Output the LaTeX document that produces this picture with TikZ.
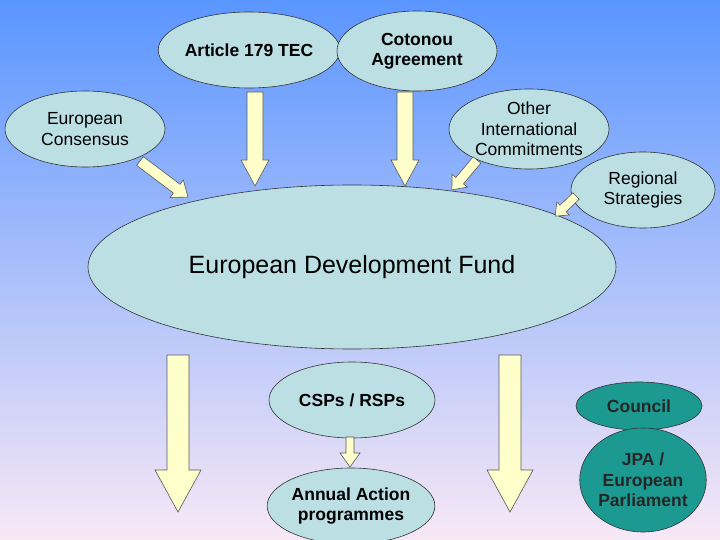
\documentclass[tikz,border=0pt]{standalone}
\usepackage{fontspec}
\setmainfont{Liberation Sans}
\begin{document}
\begin{tikzpicture}[x=1pt,y=-1pt,
  ell/.style={ellipse,draw=black!80,fill=lightcyan,line width=0.6pt,align=center,inner sep=0pt,font=\fontsize{17.5}{20.5}\selectfont},
  teal/.style={ellipse,draw=black!80,fill=tealfill,line width=0.6pt,align=center,inner sep=0pt,font=\fontsize{17.5}{20.5}\selectfont\bfseries,text=black!85},
  fatarrow/.style={draw=gray!70!black,fill=paleyellow,line width=0.6pt,line join=miter}]
\definecolor{lightcyan}{HTML}{BBDFE3}
\definecolor{tealfill}{HTML}{1C9990}
\definecolor{paleyellow}{HTML}{FFFFCC}
\usetikzlibrary{shapes.geometric}
\newcommand\fatarr[7]{\begin{scope}[shift={(#1,#2)},rotate=-#3]\draw[fatarrow] (0,-#5/2) -- (#4-#7,-#5/2) -- (#4-#7,-#6/2) -- (#4,0) -- (#4-#7,#6/2) -- (#4-#7,#5/2) -- (0,#5/2) -- cycle;\end{scope}}
\shade[top color={rgb,255:red,90;green,150;blue,255},middle color={rgb,255:red,175;green,200;blue,240},bottom color={rgb,255:red,248;green,232;blue,246}] (0,0) rectangle (720,540);
\useasboundingbox (0,0) rectangle (720,540);
\node[ell,minimum width=150,minimum height=76,font=\fontsize{17.5}{20.5}\selectfont\bfseries] (art) at (249,50) {Article 179 TEC};
\node[ell,minimum width=160,minimum height=80,font=\fontsize{17.5}{20.5}\selectfont\bfseries] (cot) at (417,51) {Cotonou\\Agreement};
\node[ell,minimum width=160,minimum height=76] (cons) at (85,129) {European\\Consensus};
\node[ell,minimum width=160,minimum height=80] (oth) at (529,129) {Other\\International\\Commitments};
\node[ell,minimum width=144,minimum height=76] (reg) at (643,190) {Regional\\Strategies};
\node[ell,minimum width=528,minimum height=164,font=\fontsize{25}{28}\selectfont] (edf) at (352,267) {European Development Fund};
\node[ell,minimum width=166,minimum height=76,font=\fontsize{17.5}{20.5}\selectfont\bfseries] (csp) at (352,400) {CSPs / RSPs};
\node[ell,minimum width=166,minimum height=76,font=\fontsize{17.5}{20.5}\selectfont\bfseries] (aap) at (351,506) {Annual Action\\programmes};
\node[teal,minimum width=126,minimum height=48] (cou) at (639,406) {Council};
\node[teal,minimum width=126,minimum height=104] (jpa) at (643,480) {JPA /\\European\\Parliament};
\fatarr{140}{161}{37}{60}{11}{22}{14}
\fatarr{255}{92}{90}{94}{16}{28}{26}
\fatarr{405}{92}{90}{94}{16}{28}{26}
\fatarr{477}{160}{130}{39}{10}{20}{12}
\fatarr{576}{196}{136}{29}{9}{18}{11}
\fatarr{178}{355}{90}{157}{22}{46}{42}
\fatarr{510}{355}{90}{157}{22}{46}{42}
\fatarr{350}{437}{90}{30}{8}{20}{14}
\end{tikzpicture}
\end{document}
